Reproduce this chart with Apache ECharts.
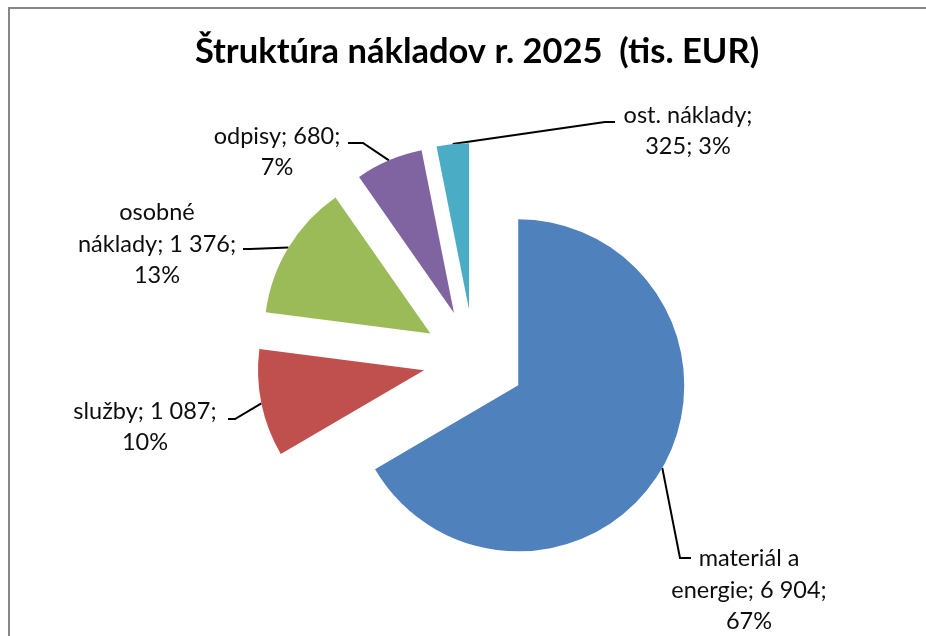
<!DOCTYPE html>
<html>
<head>
<meta charset="utf-8">
<script src="https://cdn.jsdelivr.net/npm/echarts@6/dist/echarts.min.js"></script>
<style>
  html, body { margin: 0; padding: 0; background: #ffffff; }
  #chart { width: 926px; height: 636px; }
</style>
</head>
<body>
<div id="chart"></div>
<script>
// ---- data ----
const titleText = 'Štruktúra nákladov r. 2025  (tis. EUR)';
const categories = ['materiál a energie', 'služby', 'osobné náklady', 'odpisy', 'ost. náklady'];
const values = [6904, 1087, 1376, 680, 325];
const colors = ['#4F81BD', '#C0504D', '#9BBB59', '#8064A2', '#4BACC6'];

// ---- label helpers ----
const total = values.reduce((a, b) => a + b, 0);
function fmtNum(v) { return String(v).replace(/\B(?=(\d{3})+(?!\d))/g, ' '); }
function pct(v) { return Math.round(v / total * 100) + '%'; }
function labelText(i) {
  const n = categories[i], v = fmtNum(values[i]), p = pct(values[i]);
  switch (i) {
    case 0: return 'materiál a\nenergie; ' + v + ';\n' + p;
    case 1: return n + '; ' + v + ';\n' + p;
    case 2: return 'osobné\nnáklady; ' + v + ';\n' + p;
    case 3: return n + '; ' + v + ';\n' + p;
    case 4: return n + ';\n' + v + '; ' + p;
  }
}
// label centre positions and line routing (elbow / end points)
const labelCenter = [[749, 590], [145, 427], [157, 244], [277, 152], [688, 131]];
const lineRoute = [
  [[680, 558], [691, 558]],
  [[235, 419], [228, 419]],
  [[250, 249], [243, 249]],
  [[363, 143], [348, 143]],
  [[605, 122], [615, 122]]
];

// ---- exploded pie: one series per slice, each shifted along its bisector ----
const PIE_CENTER = [474, 360];
const PIE_RADIUS = 166;
const EXPLODE = 51;
const FONT = 'Lato';

let cum = 0;
const series = values.map((v, i) => {
  const mid = (cum + v / 2) / total * 2 * Math.PI;
  cum += v;
  const cx = PIE_CENTER[0] + EXPLODE * Math.sin(mid);
  const cy = PIE_CENTER[1] - EXPLODE * Math.cos(mid);
  return {
    type: 'pie',
    center: [cx, cy],
    radius: PIE_RADIUS,
    startAngle: 90,
    clockwise: true,
    silent: true,
    avoidLabelOverlap: false,
    emphasis: { disabled: true },
    itemStyle: { borderWidth: 0 },
    label: {
      show: true,
      position: 'outside',
      fontFamily: FONT,
      fontSize: 23.5,
      lineHeight: 31.5,
      color: '#0d0d0d',
      align: 'center',
      formatter: p => labelText(p.dataIndex)
    },
    labelLine: { show: true, lineStyle: { color: '#000000', width: 2 } },
    labelLayout: function (params) {
      const j = params.dataIndex;
      if (j !== i) return {};
      const start = params.labelLinePoints ? params.labelLinePoints[0] : lineRoute[j][0];
      return {
        x: labelCenter[j][0],
        y: labelCenter[j][1],
        align: 'center',
        verticalAlign: 'middle',
        labelLinePoints: [start, lineRoute[j][0], lineRoute[j][1]]
      };
    },
    data: values.map((w, j) => ({
      name: categories[j],
      value: w,
      itemStyle: { color: j === i ? colors[j] : 'rgba(0,0,0,0)' },
      label: { show: j === i },
      labelLine: { show: j === i }
    }))
  };
});

const chart = echarts.init(document.getElementById('chart'), null, { renderer: 'canvas' });
chart.setOption({
  animation: false,
  backgroundColor: '#ffffff',
  title: {
    text: titleText,
    left: 472,
    textAlign: 'center',
    top: 29,
    textStyle: { fontFamily: FONT, fontWeight: 'bold', fontSize: 34.5, color: '#000000' }
  },
  graphic: [{
    type: 'rect',
    shape: { x: 9, y: 8, width: 1000, height: 1000 },
    style: { fill: 'none', stroke: '#878787', lineWidth: 2 },
    silent: true
  }],
  series: series
});
</script>
</body>
</html>
